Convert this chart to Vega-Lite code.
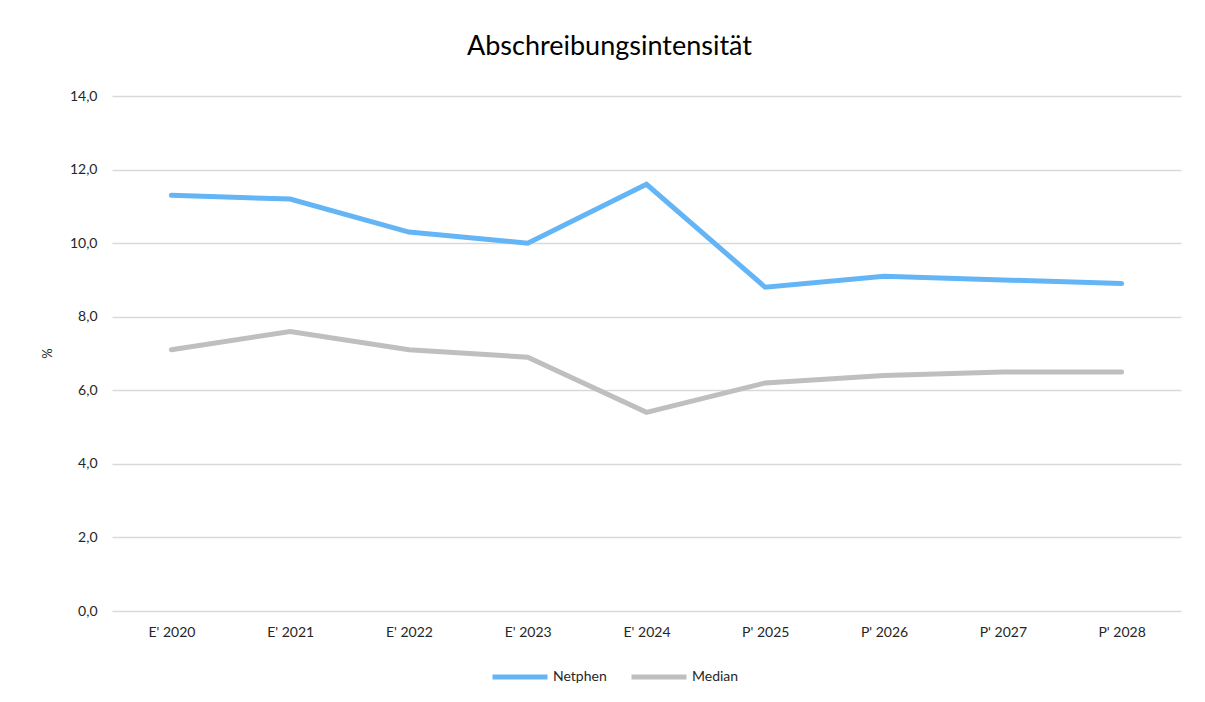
{
  "$schema": "https://vega.github.io/schema/vega-lite/v6.json",
  "width": 1069,
  "height": 515,
  "autosize": {"type": "none"},
  "padding": {"left": 112, "top": 96, "right": 24, "bottom": 91},
  "background": "white",
  "config": {
    "font": "Lato",
    "view": {"stroke": null},
    "axis": {"labelFont": "Lato", "titleFont": "Lato", "labelColor": "#404040", "titleColor": "#404040"}
  },
  "title": {
    "text": "Abschreibungsintensität",
    "fontSize": 27,
    "font": "Lato",
    "fontWeight": "normal",
    "color": "#000000",
    "anchor": "middle",
    "frame": "group",
    "dx": -37,
    "offset": 28
  },
  "data": {
    "values": [
      {"jahr": "E' 2020", "serie": "Netphen", "wert": 11.3},
      {"jahr": "E' 2021", "serie": "Netphen", "wert": 11.2},
      {"jahr": "E' 2022", "serie": "Netphen", "wert": 10.3},
      {"jahr": "E' 2023", "serie": "Netphen", "wert": 10.0},
      {"jahr": "E' 2024", "serie": "Netphen", "wert": 11.6},
      {"jahr": "P' 2025", "serie": "Netphen", "wert": 8.8},
      {"jahr": "P' 2026", "serie": "Netphen", "wert": 9.1},
      {"jahr": "P' 2027", "serie": "Netphen", "wert": 9.0},
      {"jahr": "P' 2028", "serie": "Netphen", "wert": 8.9},
      {"jahr": "E' 2020", "serie": "Median", "wert": 7.1},
      {"jahr": "E' 2021", "serie": "Median", "wert": 7.6},
      {"jahr": "E' 2022", "serie": "Median", "wert": 7.1},
      {"jahr": "E' 2023", "serie": "Median", "wert": 6.9},
      {"jahr": "E' 2024", "serie": "Median", "wert": 5.4},
      {"jahr": "P' 2025", "serie": "Median", "wert": 6.2},
      {"jahr": "P' 2026", "serie": "Median", "wert": 6.4},
      {"jahr": "P' 2027", "serie": "Median", "wert": 6.5},
      {"jahr": "P' 2028", "serie": "Median", "wert": 6.5}
    ]
  },
  "mark": {"type": "line", "strokeWidth": 5, "strokeCap": "round", "strokeJoin": "miter"},
  "encoding": {
    "x": {
      "field": "jahr",
      "type": "ordinal",
      "sort": null,
      "scale": {"type": "point", "padding": 0.5},
      "axis": {
        "title": null,
        "labelAngle": 0,
        "labelFontSize": 14,
        "labelColor": "#262626",
        "labelPadding": 14,
        "ticks": false,
        "domain": false,
        "grid": false
      }
    },
    "y": {
      "field": "wert",
      "type": "quantitative",
      "scale": {"domain": [0, 14], "nice": false},
      "axis": {
        "title": "%",
        "titleFontSize": 13,
        "titleFontWeight": "normal",
        "titleColor": "#262626",
        "titleX": -58,
        "titleY": 257,
        "values": [0, 2, 4, 6, 8, 10, 12, 14],
        "labelExpr": "replace(format(datum.value, '.1f'), '.', ',')",
        "labelFontSize": 14,
        "labelColor": "#262626",
        "labelPadding": 15,
        "ticks": false,
        "domain": false,
        "grid": true,
        "gridColor": "#D9D9D9",
        "gridWidth": 1.3
      }
    },
    "color": {
      "field": "serie",
      "type": "nominal",
      "sort": ["Netphen", "Median"],
      "scale": {"domain": ["Netphen", "Median"], "range": ["#64B5F6", "#BFBFBF"]},
      "legend": {
        "title": null,
        "orient": "none",
        "direction": "horizontal",
        "legendX": 378,
        "legendY": 551,
        "symbolType": "stroke",
        "symbolSize": 3025,
        "symbolStrokeWidth": 5,
        "labelFontSize": 14,
        "labelColor": "#262626",
        "labelOffset": 3,
        "columnPadding": 14
      }
    }
  }
}
